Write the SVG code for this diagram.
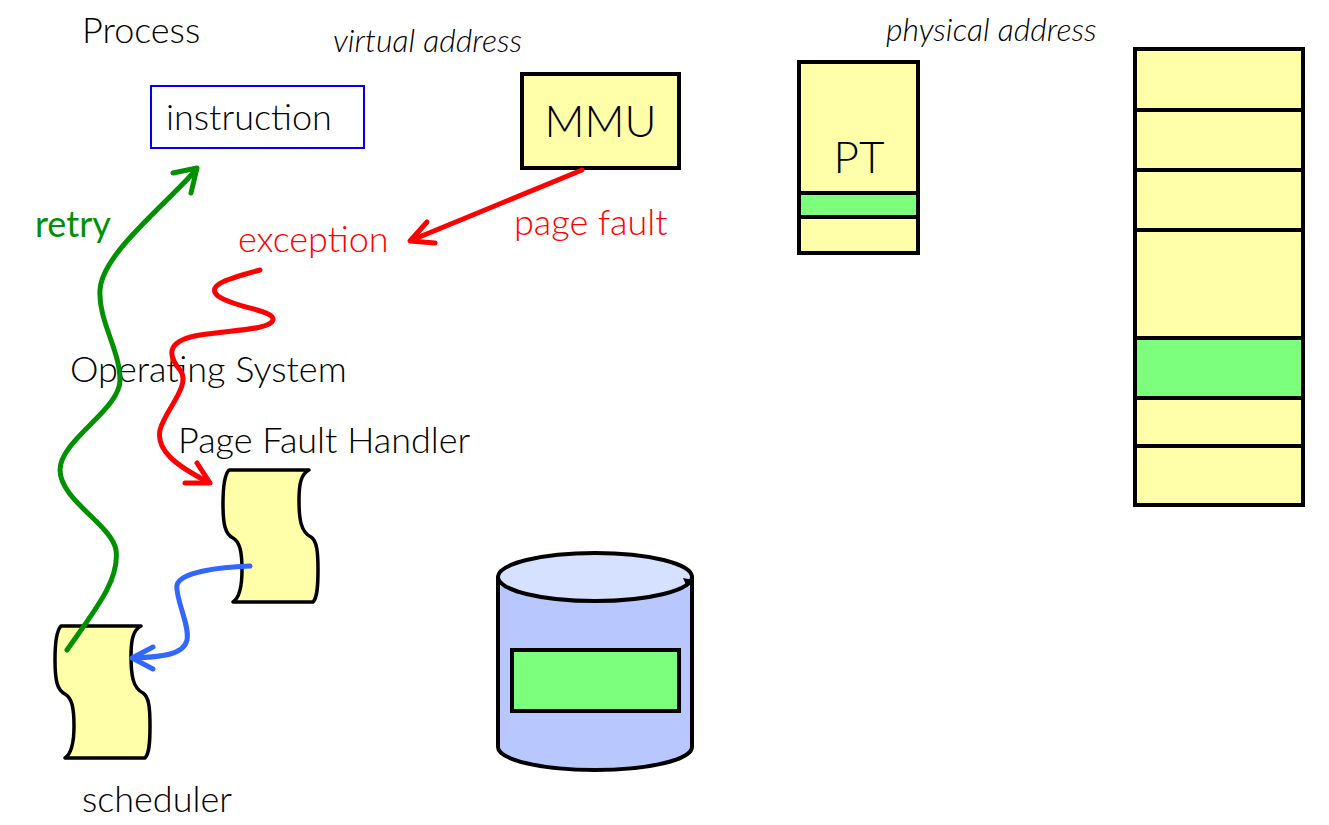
<svg xmlns="http://www.w3.org/2000/svg" width="1329" height="825" viewBox="0 0 1329 825">
<style>
text{font-family:Lato,"Liberation Sans",sans-serif;font-weight:300;fill:#000}
.t35{font-size:36px}
.it{font-size:32px;font-style:italic}
.big{font-size:44px}
.red{fill:#ff0000}
.grn{fill:#009000;font-weight:normal}
.ylw{fill:#ffffaa;stroke:#000;stroke-width:4}
.gfill{fill:#7cff7c;stroke:#000;stroke-width:4}
.doc{fill:#ffffaa;stroke:#000;stroke-width:3.5;stroke-linejoin:round}
.c{fill:none;stroke-width:5;stroke-linecap:round;stroke-linejoin:round}
.cr{stroke:#ff0000}
.cg{stroke:#009000}
.cb{stroke:#3366ff}
</style>
<defs>
<path id="scroll" d="M 6,0 L 86,0 C 78,4 76,14 76,30 C 76,50 78,62 88,67 C 94,71 95,82 95,100 C 95,118 94,128 90,132 L 10,132 C 16,128 19,118 19,100 C 19,82 17,72 10,68 C 2,64 0,54 0,34 C 0,14 2,4 6,0 Z"/>
</defs>
<rect width="1329" height="825" fill="#fff"/>

<g id="labels">
<text class="t35" x="82" y="43">Process</text>
<text class="it" x="333" y="52">virtual address</text>
<text class="it" x="886" y="41">physical address</text>
<text class="t35" x="70" y="382">Operating System</text>
<text class="t35 red" x="238" y="252">exception</text>
<text class="t35 red" x="514" y="235">page fault</text>
<text class="t35 grn" x="35" y="237">retry</text>
</g>

<g id="instruction">
<rect x="151" y="86" width="213" height="62" fill="#fff" stroke="#0000ee" stroke-width="2"/>
<text class="t35" x="166" y="130">instruction</text>
</g>

<g id="mmu">
<rect class="ylw" x="522" y="74" width="157" height="94"/>
<text class="big" x="600.5" y="137" text-anchor="middle">MMU</text>
</g>

<g id="pt">
<rect class="ylw" x="799" y="62" width="119" height="191"/>
<rect class="gfill" x="799" y="193" width="119" height="24"/>
<text class="big" x="859" y="173" text-anchor="middle">PT</text>
</g>

<g id="memory">
<rect class="ylw" x="1135" y="49" width="168" height="456"/>
<rect class="gfill" x="1135" y="338" width="168" height="60"/>
<path d="M1135,110H1303M1135,170H1303M1135,230H1303M1135,446H1303" stroke="#000" stroke-width="4"/>
</g>

<g id="handler">
<use href="#scroll" class="doc" transform="translate(223,470)"/>
<text class="t35" x="178" y="453">Page Fault Handler</text>
</g>

<g id="scheduler">
<use href="#scroll" class="doc" transform="translate(55,626)"/>
<text class="t35" x="82" y="812">scheduler</text>
</g>

<g id="disk">
<path d="M498,577 V747 A97,23 0 0 0 692,747 V577 Z" fill="#b8c8ff" stroke="#000" stroke-width="4" stroke-linejoin="round"/>
<ellipse cx="595" cy="577" rx="97" ry="24" fill="#d6e0ff" stroke="#000" stroke-width="4"/>
<polygon points="683,578 693,580 687,587" fill="#000"/>
<rect class="gfill" x="512" y="650" width="167" height="61"/>
</g>

<g id="connectors">
<path class="c cr" d="M582,170 L412,240"/>
<polyline class="c cr" points="427,222 410,241 435,243"/>
<path class="c cr" d="M260,270 C230,278 205,285 218,296 C235,308 275,310 273,320 C270,330 230,330 200,335 C170,340 165,352 180,370 C192,385 165,410 160,430 C156,450 175,465 208,482"/>
<polyline class="c cr" points="197,463 210,483 185,483"/>
<path class="c cg" d="M67,650 C95,610 120,580 116,550 C112,525 60,500 60,470 C60,440 120,410 120,380 C120,350 98,320 100,290 C102,255 160,210 196,170"/>
<polyline class="c cg" points="173,173 197,168 191,193"/>
<path class="c cb" d="M250,566 C220,567 180,572 177,585 C175,598 190,625 187,640 C184,655 160,657 134,658"/>
<polyline class="c cb" points="153,647 132,658 153,669"/>
</g>
</svg>
